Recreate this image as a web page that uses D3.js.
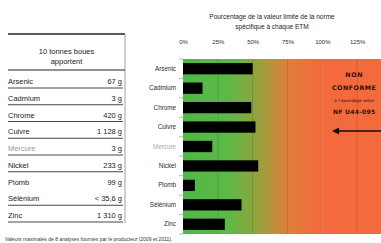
<!DOCTYPE html>
<html>
<head>
<meta charset="utf-8">
<script src="https://cdn.jsdelivr.net/npm/d3@7"></script>
<style>
  body { margin: 0; background: #fff; }
  svg { display: block; font-family: "Liberation Sans", Arial, sans-serif; }
</style>
</head>
<body>
<div id="canvas"></div>
<script>
(function(d3){

  // données
  var categories = ["Arsenic", "Cadmium", "Chrome", "Cuivre", "Mercure", "Nickel", "Plomb", "Sélénium", "Zinc"],
      pctValues = [50, 14, 49, 52, 21, 54, 8.5, 42, 30],
      quantities = ["67 g", "3 g", "420 g", "1 128 g", "3 g", "233 g", "99 g", "< 35,6 g", "1 310 g"],
      tickValues = [0, 25, 50, 75, 100, 125],
      title = ["Pourcentage de la valeur limite de la norme", "spécifique à chaque ETM"],
      tableHeader = ["10 tonnes boues", "apportent"],
      note = "Valeurs maximales de 8 analyses fournies par le producteur (2009 et 2011).";

  var canvas_d = {width: 381, height: 243},
      plot = {left: 183, right: 381, top: 59, bottom: 234};

  var svg = d3.select('#canvas').append('svg')
      .attr('width', canvas_d.width)
      .attr('height', canvas_d.height);

  var x = d3.scaleLinear().domain([0, 142.1]).range([plot.left, plot.right]);
  var y = d3.scaleBand().domain(categories).range([plot.top, plot.bottom])
      .paddingInner(0.42).paddingOuter(0.21);

  /**
   * Fond dégradé vert -> orange
   */
  var grad = svg.append('defs').append('linearGradient')
      .attr('id', 'bg')
      .attr('gradientUnits', 'userSpaceOnUse')
      .attr('x1', x(0)).attr('x2', x(100)).attr('y1', 0).attr('y2', 0);
  [[0, '#4fb848'], [0.32, '#5cb947'], [0.52, '#8ea53e'], [0.74, '#de803a'], [1, '#f36a3c']]
    .forEach(function(s){
      grad.append('stop').attr('offset', s[0]).attr('stop-color', s[1]);
    });

  svg.append('rect')
      .attr('x', x(0)).attr('y', plot.top)
      .attr('width', x(100) - x(0)).attr('height', plot.bottom - plot.top)
      .attr('fill', 'url(#bg)');
  svg.append('rect')
      .attr('x', x(100)).attr('y', plot.top)
      .attr('width', plot.right - x(100)).attr('height', plot.bottom - plot.top)
      .attr('fill', '#f36a3c');

  // grille
  svg.selectAll('line.grid')
      .data(tickValues.slice(1))
    .enter().append('line')
      .attr('class', 'grid')
      .attr('x1', function(d){ return x(d); }).attr('x2', function(d){ return x(d); })
      .attr('y1', plot.top).attr('y2', plot.bottom)
      .attr('stroke', 'rgba(60,30,0,0.16)')
      .attr('stroke-width', 1);

  /**
   * Barres
   */
  svg.selectAll('rect.bar')
      .data(pctValues)
    .enter().append('rect')
      .attr('class', 'bar')
      .attr('x', x(0))
      .attr('y', function(d, i){ return y(categories[i]); })
      .attr('width', function(d){ return x(d) - x(0); })
      .attr('height', y.bandwidth())
      .attr('fill', '#000');

  // axe du haut
  var xAxis = svg.append('g')
      .attr('transform', 'translate(0,' + (plot.top - 12) + ')')
      .call(d3.axisTop(x).tickValues(tickValues).tickSize(0).tickFormat(function(d){ return d + '%'; }));
  xAxis.select('.domain').remove();
  xAxis.selectAll('text').attr('font-size', 6).attr('fill', '#333')
      .attr('font-family', '"Liberation Sans", sans-serif');

  // axe gauche
  var yAxis = svg.append('g')
      .attr('transform', 'translate(' + (x(0) - 5) + ',0)')
      .call(d3.axisLeft(y).tickSize(0).tickPadding(2));
  yAxis.select('.domain').remove();
  yAxis.selectAll('text').attr('font-size', 6.3)
      .attr('font-family', '"Liberation Sans", sans-serif')
      .attr('fill', function(d){ return d === 'Mercure' ? '#aaa' : '#2a2a2a'; });

  // petites marques entre les catégories
  svg.selectAll('line.ytick')
      .data(d3.range(categories.length + 1))
    .enter().append('line')
      .attr('class', 'ytick')
      .attr('x1', x(0) - 4).attr('x2', x(0))
      .attr('y1', function(i){ return plot.top + i * y.step(); })
      .attr('y2', function(i){ return plot.top + i * y.step(); })
      .attr('stroke', '#999').attr('stroke-width', 0.7);

  // titre
  svg.append('g').selectAll('text')
      .data(title)
    .enter().append('text')
      .attr('x', 272).attr('y', function(d, i){ return 19 + i * 10; })
      .attr('text-anchor', 'middle')
      .attr('font-size', 6.5).attr('fill', '#222')
      .text(function(d){ return d; });

  /**
   * Zone non conforme
   */
  var ncX = x(125) - 3;
  var nc = svg.append('g').attr('font-family', '"DejaVu Sans", sans-serif')
      .attr('text-anchor', 'middle').attr('fill', '#2a1208');
  nc.append('text').attr('x', ncX).attr('y', 77).attr('font-size', 6.3).attr('font-weight', 'bold')
      .attr('letter-spacing', 0.6).text('NON');
  nc.append('text').attr('x', ncX).attr('y', 90).attr('font-size', 6.3).attr('font-weight', 'bold')
      .attr('letter-spacing', 0.5).text('CONFORME');
  nc.append('text').attr('x', ncX).attr('y', 102).attr('font-size', 4.2)
      .text('à l\u2019épandage selon');
  nc.append('text').attr('x', ncX).attr('y', 114).attr('font-size', 6).attr('font-weight', 'bold')
      .attr('letter-spacing', 0.3).text('NF U44-095');

  var arrowY = 131;
  svg.append('line')
      .attr('x1', x(107) + 3).attr('x2', plot.right + 5)
      .attr('y1', arrowY).attr('y2', arrowY)
      .attr('stroke', '#1a0a04').attr('stroke-width', 1.4);
  svg.append('path')
      .attr('d', 'M' + x(107) + ',' + arrowY + 'l7,-3.5l0,7z')
      .attr('fill', '#1a0a04');

  /**
   * Tableau
   */
  var tbl = {left: 8, right: 125, top: 34};
  var ty = d3.scalePoint().domain(categories).range([81, 215]);

  svg.append('line')
      .attr('x1', tbl.left).attr('x2', tbl.right).attr('y1', tbl.top).attr('y2', tbl.top)
      .attr('stroke', '#222').attr('stroke-width', 1.6);
  svg.append('line')
      .attr('x1', tbl.right).attr('x2', tbl.right).attr('y1', tbl.top).attr('y2', ty('Zinc') + 8)
      .attr('stroke', '#888').attr('stroke-width', 0.8);
  svg.append('line')
      .attr('x1', tbl.left).attr('x2', tbl.right).attr('y1', 70).attr('y2', 70)
      .attr('stroke', '#222').attr('stroke-width', 1.2);

  svg.append('g').selectAll('text')
      .data(tableHeader)
    .enter().append('text')
      .attr('x', (tbl.left + tbl.right) / 2).attr('y', function(d, i){ return 54 + i * 10; })
      .attr('text-anchor', 'middle').attr('font-size', 7.5).attr('fill', '#222')
      .text(function(d){ return d; });

  var rows = svg.append('g').selectAll('g')
      .data(categories)
    .enter().append('g')
      .attr('transform', function(d){ return 'translate(0,' + ty(d) + ')'; });

  rows.append('text')
      .attr('x', tbl.left).attr('y', 3)
      .attr('font-size', 7.5)
      .attr('fill', function(d){ return d === 'Mercure' ? '#999' : '#222'; })
      .text(function(d){ return d; });
  rows.append('text')
      .attr('x', tbl.right - 3).attr('y', 3)
      .attr('text-anchor', 'end').attr('font-size', 7.5).attr('fill', '#222')
      .text(function(d, i){ return quantities[i]; });
  rows.filter(function(d){ return d !== 'Plomb'; }).append('line')
      .attr('x1', tbl.left).attr('x2', tbl.right - 2)
      .attr('y1', 7).attr('y2', 7)
      .attr('stroke', '#333').attr('stroke-width', 0.9);

  // note
  svg.append('text')
      .attr('x', 5).attr('y', 241)
      .attr('font-size', 5).attr('fill', '#333')
      .text(note);

})(d3);
</script>
</body>
</html>
